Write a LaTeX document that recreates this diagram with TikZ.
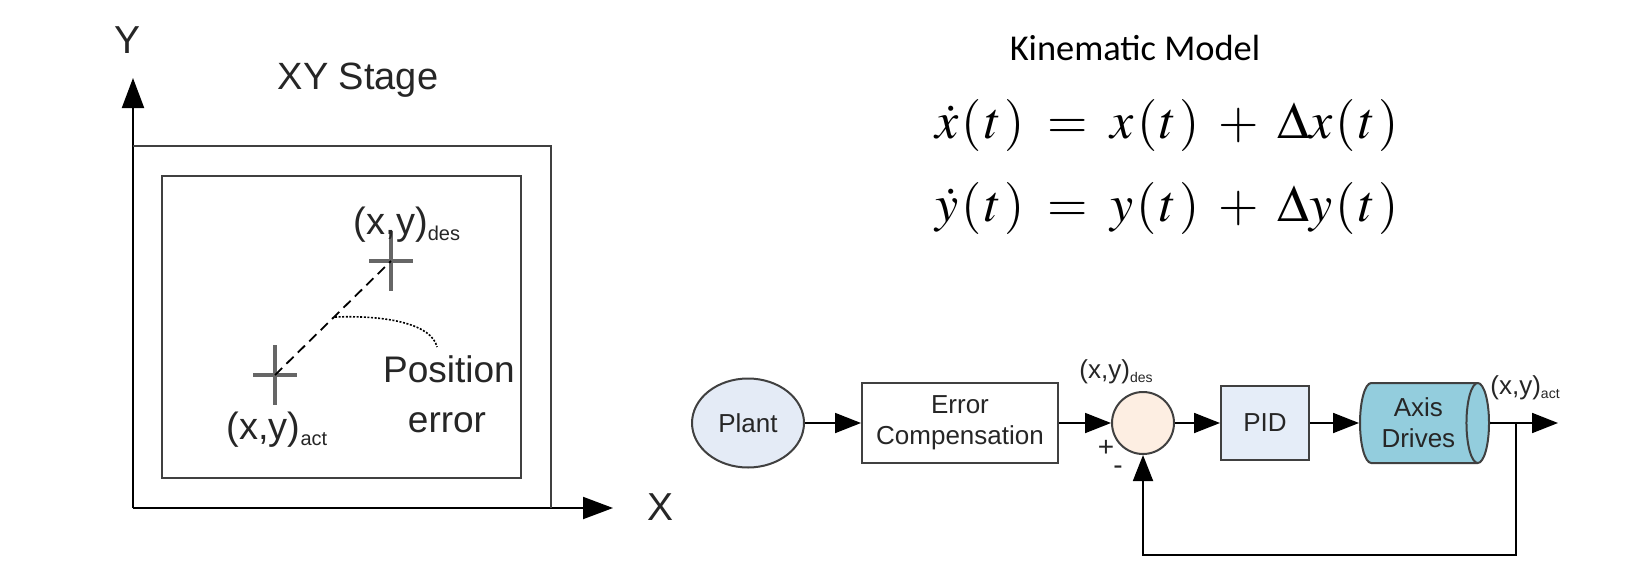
\documentclass[tikz,border=0pt]{standalone}
\usepackage{amsmath}
\usepackage{mathptmx}
\usepackage[no-math]{fontspec}
\setmainfont{Liberation Sans}
\newfontfamily\calfont{Carlito}
\usepackage{tikz}
\usetikzlibrary{arrows.meta, positioning, calc, shapes.geometric}

\definecolor{plantblue}{HTML}{E4EBF6}
\definecolor{sumpeach}{HTML}{FDEEE2}
\definecolor{pidblue}{HTML}{E5EDF8}
\definecolor{drivecyan}{HTML}{93CDDD}

% (x,y) 加下标
\newcommand{\xysub}[2]{(x,y)\raisebox{-0.3ex}{\fontsize{#1}{#1}\selectfont #2}}
% 括号内留空, 仿公式编辑器的排法
\newcommand{\ofT}{\mkern1mu(\mkern1mu t\mkern1mu)}

\begin{document}
\begin{tikzpicture}[x=0.5pt, y=-0.5pt,
  axis/.style={line width=1pt, -{Triangle[length=15pt,width=11pt]}},
  frame/.style={draw=black!75, line width=1.2pt},
  crossmark/.style={draw=black!60, line width=1.6pt},
  lbl/.style={text=black!85, inner sep=0pt, anchor=base},
  blk/.style={draw=black!75, line width=1pt, text=black!85, font=\fontsize{13}{15.5}\selectfont, align=center, inner sep=0pt},
  flow/.style={line width=0.9pt, -{Triangle[length=13pt,width=10pt]}}]
\useasboundingbox (0,0) rectangle (1641,562); % 固定画布大小

% 左图: XY 平台与坐标轴
\coordinate (o) at (133,508);
\draw[axis] (o) -- (133,78);   % Y 轴
\draw[axis] (o) -- (613,508);  % X 轴
\draw[frame] (133,146) -| (551,508);          % 外框
\draw[frame] (162,176) rectangle (521,478);   % 内框
\node[lbl, font=\fontsize{19.5}{22}\selectfont] (ylab) at (128,53) {Y};
\node[lbl, font=\fontsize{19.5}{22}\selectfont] (xlab) at (660,520) {X};
\node[lbl, font=\fontsize{19}{22}\selectfont] (stage) at (358,89) {XY Stage};

% 十字标记与位置误差
\coordinate (des) at (391,261);
\coordinate (act) at (275,375);
\draw[crossmark] ($(des)+(-22,0)$) -- ($(des)+(22,0)$) ($(des)+(0,-30)$) -- ($(des)+(0,30)$);
\draw[crossmark] ($(act)+(-22,0)$) -- ($(act)+(22,0)$) ($(act)+(0,-30)$) -- ($(act)+(0,30)$);
\draw[line width=0.9pt, dash pattern=on 5pt off 3pt] (act) -- (des);
\draw[line width=0.8pt, dash pattern=on 1pt off 0.8pt] (335,317) .. controls (390,315) and (432,325) .. (437,347);
\node[lbl, font=\fontsize{19}{22}\selectfont] (deslab) at (407,234) {\xysub{10}{des}};
\node[lbl, font=\fontsize{19}{22}\selectfont] (actlab) at (277,439) {\xysub{10}{act}};
\node[lbl, font=\fontsize{18.5}{22}\selectfont] (pos) at (449,382) {Position};
\node[lbl, font=\fontsize{18.5}{22}\selectfont] (err) at (447,432) {error};

% 右上: 运动学模型
\node[lbl, text=black, font=\calfont\fontsize{18.2}{20}\selectfont] (kin) at (1135,60) {Kinematic Model};
\node[lbl, text=black, anchor=base west, font=\fontsize{26}{28}\selectfont] (eqx) at (935,138) {$\dot{x}\ofT\;=\;x\ofT\;+\;\Delta x\ofT$};
\node[lbl, text=black, anchor=base west, font=\fontsize{26}{28}\selectfont] (eqy) at (935,221) {$\dot{y}\ofT\;=\;y\ofT\;+\;\Delta y\ofT$};

% 右下: 闭环控制框图
\node[blk, ellipse, fill=plantblue, minimum width=56pt, minimum height=44.5pt] (plant) at (748,423) {Plant};
\node[blk, rectangle, minimum width=98pt, minimum height=40pt, right=28pt of plant] (comp) {Error\\Compensation};
\node[blk, circle, fill=sumpeach, minimum size=31pt, right=26pt of comp] (sum) {};
\node[blk, rectangle, fill=pidblue, minimum width=44pt, minimum height=37pt, right=22.5pt of sum] (pid) {PID};
\node[blk, cylinder, fill=drivecyan, minimum width=40pt, minimum height=64.5pt, aspect=0.45, right=24.5pt of pid] (drive) {Axis\\Drives};
\coordinate[right=13pt of drive.east] (tap);
\coordinate[right=34pt of drive.east] (out);

\draw[flow] (plant) -- (comp);
\draw[flow] (comp) -- (sum);
\draw[flow] (sum) -- (pid);
\draw[flow] (pid) -- (drive);
\draw[flow] (drive.east) -- (out);
\draw[flow] (tap) -- ++(0,132) -| (sum.south); % 反馈回路

\node[lbl, font=\fontsize{13}{15}\selectfont] (sumlab) at (1116,378) {\xysub{7}{des}};
\node[lbl, anchor=base west, font=\fontsize{13}{15}\selectfont] (outlab) at (1490,394) {\xysub{7}{act}};
\node[text=black!85, inner sep=0pt, font=\fontsize{14}{15}\selectfont] (plus) at (1106,448) {+};
\node[text=black!85, inner sep=0pt, font=\fontsize{14}{15}\selectfont] (minus) at (1118,470) {-};
\end{tikzpicture}
\end{document}
